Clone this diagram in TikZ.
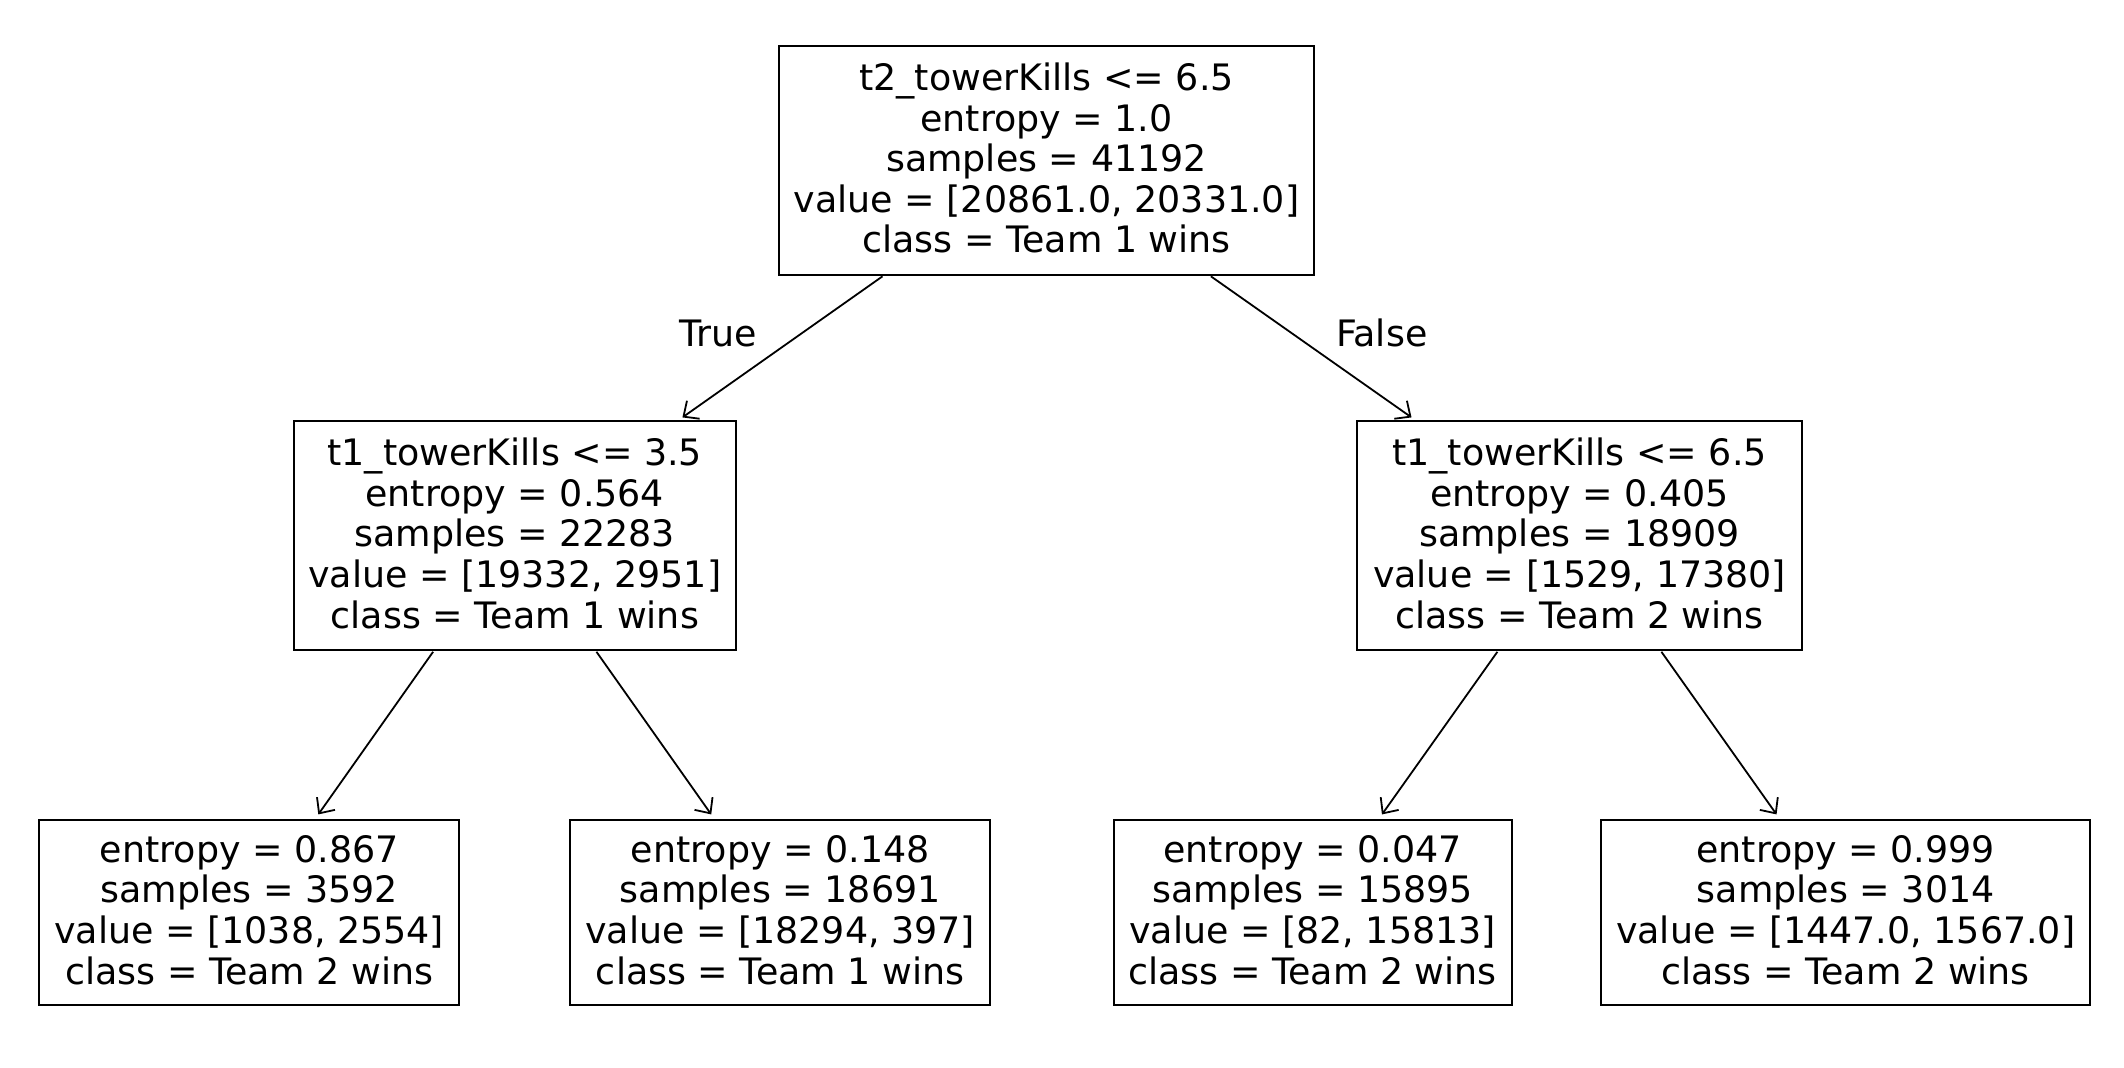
\documentclass[tikz,border=0pt]{standalone}
\usepackage{fontspec}
\setmainfont{DejaVu Sans}
\usetikzlibrary{arrows.meta}
\newcommand{\lowpad}{\rule[-2.7pt]{0pt}{2.7pt}}
\begin{document}
\begin{tikzpicture}[x=0.5pt,y=-0.5pt,
  every node/.style={font=\fontsize{18.2}{20.3}\selectfont},
  treebox/.style={draw=black,line width=1pt,rectangle,align=center,inner sep=0pt},
  inner5/.style={treebox,minimum height=114.5pt},
  inner4/.style={treebox,minimum height=92.8pt},
  edge/.style={-{Straight Barb[length=6pt,width=11pt,line width=0.9pt]},line width=0.9pt,shorten >=2.5pt,shorten <=0.3pt},
  lbl/.style={inner sep=0pt}]
\useasboundingbox (0,0) rectangle (2124,1068);
\node[inner5,minimum width=267.5pt] (root) at (1046.5,160.5) {t2\_towerKills <= 6.5\\entropy = 1.0\\samples = 41192\\value = [20861.0, 20331.0]\\class = Team 1 wins\lowpad};
\node[inner5,minimum width=220.8pt] (l) at (514.8,535.8) {t1\_towerKills <= 3.5\\entropy = 0.564\\samples = 22283\\value = [19332, 2951]\\class = Team 1 wins\lowpad};
\node[inner5,minimum width=222.2pt] (r) at (1579.5,535.8) {t1\_towerKills <= 6.5\\entropy = 0.405\\samples = 18909\\value = [1529, 17380]\\class = Team 2 wins\lowpad};
\node[inner4,minimum width=210pt] (ll) at (249.3,912.3) {entropy = 0.867\\samples = 3592\\value = [1038, 2554]\\class = Team 2 wins\lowpad};
\node[inner4,minimum width=210pt] (lr) at (780.2,912.3) {entropy = 0.148\\samples = 18691\\value = [18294, 397]\\class = Team 1 wins\lowpad};
\node[inner4,minimum width=199pt] (rl) at (1312.6,912.3) {entropy = 0.047\\samples = 15895\\value = [82, 15813]\\class = Team 2 wins\lowpad};
\node[inner4,minimum width=244.5pt] (rr) at (1845.7,912.3) {entropy = 0.999\\samples = 3014\\value = [1447.0, 1567.0]\\class = Team 2 wins\lowpad};
\draw[edge] (root) -- (l);
\draw[edge] (root) -- (r);
\draw[edge] (l) -- (ll);
\draw[edge] (l) -- (lr);
\draw[edge] (r) -- (rl);
\draw[edge] (r) -- (rr);
\node[lbl] (tl) at (718,333) {True};
\node[lbl] (fl) at (1381.7,333) {False};
\end{tikzpicture}
\end{document}
